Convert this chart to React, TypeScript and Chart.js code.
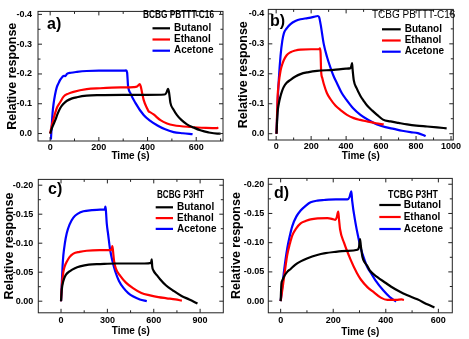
import { useEffect, useRef } from "react";
import { Chart, registerables } from "chart.js";
Chart.register(...registerables);

const FONT = "'Liberation Sans', Arial, sans-serif";

type Pt = [number, number];

const seriesNames = ["Butanol", "Ethanol", "Acetone"];
const seriesColors = ["#000000", "#ff0000", "#0000ff"];

// ---- Panel a) BCBG PBTTT-C16 ----
const aButanol: Pt[] = [[0, 0.0], [8, -0.02], [21, -0.045], [30, -0.065], [41, -0.085], [55, -0.1], [69, -0.11], [90, -0.118], [110, -0.122], [150, -0.127], [200, -0.129], [300, -0.13], [400, -0.13], [470, -0.131], [478, -0.138], [484, -0.15], [488, -0.14], [494, -0.103], [507, -0.08], [521, -0.062], [540, -0.045], [562, -0.031], [590, -0.02], [617, -0.011], [650, -0.004], [686, 0.0], [700, 0.0]];
const aEthanol: Pt[] = [[0, 0.0], [5, -0.02], [14, -0.05], [27, -0.085], [41, -0.105], [55, -0.124], [75, -0.134], [96, -0.14], [150, -0.149], [205, -0.152], [290, -0.155], [343, -0.156], [357, -0.158], [368, -0.166], [373, -0.155], [378, -0.135], [384, -0.113], [398, -0.085], [405, -0.074], [410, -0.072], [425, -0.064], [453, -0.045], [480, -0.034], [508, -0.028], [576, -0.022], [640, -0.019], [686, -0.018], [690, -0.021]];
const aAcetone: Pt[] = [[3, 0.02], [6, -0.02], [10, -0.07], [14, -0.1], [20, -0.13], [27, -0.155], [35, -0.17], [41, -0.18], [50, -0.19], [57, -0.194], [62, -0.193], [69, -0.2], [85, -0.204], [110, -0.207], [150, -0.21], [200, -0.211], [250, -0.211], [300, -0.211], [312, -0.212], [316, -0.205], [320, -0.16], [330, -0.135], [350, -0.103], [384, -0.062], [410, -0.043], [439, -0.028], [470, -0.015], [507, -0.005], [545, -0.001], [585, 0.002]];

// ---- Panel b) TCBG PBTTT-C16 ----
const bButanol: Pt[] = [[2, 0.0], [8, -0.07], [15, -0.1], [25, -0.126], [35, -0.145], [44, -0.157], [60, -0.17], [82, -0.18], [110, -0.191], [139, -0.199], [180, -0.205], [234, -0.21], [329, -0.213], [400, -0.217], [425, -0.219], [430, -0.226], [434, -0.236], [437, -0.215], [444, -0.178], [460, -0.152], [482, -0.126], [500, -0.11], [520, -0.094], [550, -0.077], [577, -0.063], [611, -0.047], [654, -0.041], [700, -0.036], [749, -0.031], [802, -0.027], [863, -0.024], [920, -0.021], [975, -0.018]];
const bEthanol: Pt[] = [[2, 0.0], [8, -0.12], [15, -0.17], [25, -0.21], [35, -0.232], [44, -0.246], [60, -0.262], [82, -0.272], [110, -0.278], [139, -0.281], [200, -0.282], [245, -0.282], [250, -0.285], [254, -0.27], [257, -0.21], [264, -0.185], [272, -0.167], [290, -0.136], [311, -0.115], [340, -0.093], [368, -0.079], [405, -0.063], [444, -0.052], [480, -0.046], [520, -0.041], [570, -0.035], [615, -0.031]];
const bAcetone: Pt[] = [[2, 0.0], [8, -0.1], [15, -0.18], [25, -0.26], [35, -0.31], [44, -0.335], [60, -0.352], [82, -0.366], [110, -0.376], [139, -0.382], [180, -0.386], [215, -0.39], [238, -0.393], [245, -0.39], [254, -0.366], [272, -0.3], [290, -0.258], [311, -0.22], [330, -0.19], [349, -0.167], [375, -0.136], [406, -0.11], [440, -0.085], [482, -0.063], [530, -0.045], [577, -0.031], [625, -0.022], [673, -0.016], [720, -0.01], [768, -0.005], [810, -0.002], [840, 0.004], [855, 0.008]];

// ---- Panel c) BCBG P3HT ----
const cButanol: Pt[] = [[0, 0.0], [5, -0.02], [15, -0.035], [30, -0.045], [58, -0.052], [90, -0.057], [123, -0.06], [180, -0.063], [253, -0.064], [350, -0.065], [450, -0.065], [540, -0.065], [582, -0.066], [587, -0.072], [590, -0.06], [598, -0.053], [620, -0.045], [641, -0.038], [680, -0.027], [727, -0.018], [780, -0.009], [830, -0.003], [883, 0.004]];
const cEthanol: Pt[] = [[0, 0.0], [5, -0.025], [15, -0.05], [25, -0.061], [37, -0.068], [55, -0.076], [80, -0.082], [120, -0.085], [166, -0.087], [250, -0.088], [320, -0.088], [328, -0.09], [332, -0.095], [336, -0.088], [343, -0.07], [355, -0.056], [382, -0.044], [420, -0.032], [468, -0.022], [520, -0.014], [576, -0.01], [630, -0.007], [684, -0.005], [740, -0.003], [782, -0.001]];
const cAcetone: Pt[] = [[0, 0.0], [5, -0.03], [10, -0.06], [15, -0.079], [25, -0.1], [37, -0.117], [55, -0.132], [80, -0.144], [110, -0.151], [145, -0.155], [200, -0.157], [253, -0.158], [283, -0.158], [287, -0.163], [290, -0.158], [296, -0.134], [305, -0.115], [317, -0.09], [332, -0.07], [350, -0.052], [375, -0.035], [404, -0.023], [435, -0.014], [468, -0.008], [510, -0.003], [555, 0.0]];

// ---- Panel d) TCBG P3HT ----
const dButanol: Pt[] = [[0, 0.0], [3, -0.03], [6, -0.035], [13, -0.042], [25, -0.05], [38, -0.055], [55, -0.062], [76, -0.068], [100, -0.073], [139, -0.079], [170, -0.082], [203, -0.084], [250, -0.086], [292, -0.088], [298, -0.092], [302, -0.106], [305, -0.095], [311, -0.076], [320, -0.066], [330, -0.06], [340, -0.052], [368, -0.041], [400, -0.031], [419, -0.025], [454, -0.016], [482, -0.01], [520, -0.003], [560, 0.006], [585, 0.011]];
const dEthanol: Pt[] = [[0, 0.0], [5, -0.015], [13, -0.041], [25, -0.079], [35, -0.098], [44, -0.112], [60, -0.125], [76, -0.133], [95, -0.137], [114, -0.14], [178, -0.142], [200, -0.14], [208, -0.139], [213, -0.143], [219, -0.153], [222, -0.14], [226, -0.123], [241, -0.1], [266, -0.071], [290, -0.048], [305, -0.037], [330, -0.024], [355, -0.015], [381, -0.006], [406, -0.002], [440, -0.002], [460, -0.003], [469, -0.002]];
const dAcetone: Pt[] = [[0, 0.0], [5, -0.02], [13, -0.052], [25, -0.09], [35, -0.112], [44, -0.128], [60, -0.145], [76, -0.155], [95, -0.163], [114, -0.169], [140, -0.172], [165, -0.173], [210, -0.174], [254, -0.174], [262, -0.178], [269, -0.188], [272, -0.172], [285, -0.133], [295, -0.11], [305, -0.09], [318, -0.072], [330, -0.058], [346, -0.046], [360, -0.036], [391, -0.018], [415, -0.007], [439, 0.001]];

// ---- tick labels ----
const xTicksA = [0, 200, 400, 600];
const xTicksB = [0, 200, 400, 600, 800, 1000];
const xTicksC = [0, 300, 600, 900];
const xTicksD = [0, 200, 400, 600];
const yTicksAB = [-0.4, -0.3, -0.2, -0.1, 0.0];
const yTicksCD = [-0.2, -0.15, -0.1, -0.05, 0.0];

const panelLabels = ["a)", "b)", "c)", "d)"];
const panelTitles = ["BCBG PBTTT-C16", "TCBG PBTTT-C16", "BCBG P3HT", "TCBG P3HT"];
const yTitle = "Relative response";
const xTitle = "Time (s)";

interface PanelCfg {
  left: number; top: number; width: number; height: number;
  yAxisW: number; xAxisH: number; padTop: number; padRight: number;
  xMin: number; xMax: number; yMin: number; yMax: number;
  xTicks: number[]; yTicks: number[]; yDec: number;
  yTitlePad: number; xTitlePad: number; yTickPad: number; xTickPad: number;
  label: string; labelX: number; labelY: number;
  title: string; titleBold: boolean; titleX: number; titleY: number; titleW: number;
  legX: number; legY: number; legLen: number; legGap: number; legRow: number;
  series: Pt[][];
}

const panels: PanelCfg[] = [
  {
    left: 0, top: 0, width: 234, height: 169, yAxisW: 38, xAxisH: 28, padTop: 3, padRight: 11,
    xMin: -50, xMax: 710, yMin: -0.41, yMax: 0.025, xTicks: xTicksA, yTicks: yTicksAB, yDec: 1,
    yTitlePad: 4.8, xTitlePad: 6.3, yTickPad: 6, xTickPad: 1.5,
    label: panelLabels[0], labelX: 47, labelY: 25,
    title: panelTitles[0], titleBold: true, titleX: 143, titleY: 15, titleW: 71,
    legX: 152.5, legY: 28.3, legLen: 17.5, legGap: 4, legRow: 11.2,
    series: [aButanol, aEthanol, aAcetone],
  },
  {
    left: 234, top: 0, width: 235, height: 169, yAxisW: 34.3, xAxisH: 29, padTop: 1, padRight: 15.7,
    xMin: -45, xMax: 1013, yMin: -0.415, yMax: 0.021, xTicks: xTicksB, yTicks: yTicksAB, yDec: 1,
    yTitlePad: 1.8, xTitlePad: 6.3, yTickPad: 4, xTickPad: 1.5,
    label: panelLabels[1], labelX: 36, labelY: 22,
    title: panelTitles[1], titleBold: false, titleX: 138, titleY: 15, titleW: 84,
    legX: 148, legY: 29.3, legLen: 18.7, legGap: 4, legRow: 11.2,
    series: [bButanol, bEthanol, bAcetone],
  },
  {
    left: 0, top: 169, width: 234, height: 170, yAxisW: 38.3, xAxisH: 26.2, padTop: 3.2, padRight: 10.7,
    xMin: -147, xMax: 1050, yMin: -0.21, yMax: 0.02, xTicks: xTicksC, yTicks: yTicksCD, yDec: 2,
    yTitlePad: 1.8, xTitlePad: 2, yTickPad: 5, xTickPad: 2.5,
    label: panelLabels[2], labelX: 48, labelY: 21,
    title: panelTitles[2], titleBold: true, titleX: 157, titleY: 26, titleW: 47,
    legX: 155.7, legY: 38.3, legLen: 17.3, legGap: 4, legRow: 10.8,
    series: [cButanol, cEthanol, cAcetone],
  },
  {
    left: 228, top: 169, width: 241, height: 170, yAxisW: 40.3, xAxisH: 26.2, padTop: 3.2, padRight: 16.7,
    xMin: -47, xMax: 653, yMin: -0.21, yMax: 0.02, xTicks: xTicksD, yTicks: yTicksCD, yDec: 2,
    yTitlePad: 0.8, xTitlePad: 0.8, yTickPad: 4, xTickPad: 2.5,
    label: panelLabels[3], labelX: 46, labelY: 25,
    title: panelTitles[3], titleBold: true, titleX: 160, titleY: 26, titleW: 50,
    legX: 151.3, legY: 36, legLen: 21.4, legGap: 3, legRow: 12,
    series: [dButanol, dEthanol, dAcetone],
  },
];

function minorOf(ticks: number[], min: number, max: number): number[] {
  const step = ticks[1] - ticks[0];
  const out: number[] = [];
  for (let v = ticks[0] - step / 2; v > min; v -= step) out.push(v);
  for (let i = 0; i < ticks.length; i++) {
    const v = ticks[i] + step / 2;
    if (v < max) out.push(v);
  }
  return out;
}

function makeDecor(cfg: PanelCfg) {
  return {
    id: "decor",
    afterDatasetsDraw(chart: any) {
      const ctx = chart.ctx as CanvasRenderingContext2D;
      const a = chart.chartArea;
      const xs = chart.scales.x;
      const ys = chart.scales.y;
      ctx.save();
      ctx.strokeStyle = "#222";
      ctx.lineWidth = 1;
      ctx.strokeRect(a.left, a.top, a.right - a.left, a.bottom - a.top);
      const maj = 4, mnr = 2.5;
      ctx.beginPath();
      const xm = minorOf(cfg.xTicks, cfg.xMin, cfg.xMax);
      cfg.xTicks.forEach((v) => {
        const p = xs.getPixelForValue(v);
        ctx.moveTo(p, a.bottom); ctx.lineTo(p, a.bottom - maj);
        ctx.moveTo(p, a.top); ctx.lineTo(p, a.top + maj);
      });
      xm.forEach((v) => {
        const p = xs.getPixelForValue(v);
        ctx.moveTo(p, a.bottom); ctx.lineTo(p, a.bottom - mnr);
        ctx.moveTo(p, a.top); ctx.lineTo(p, a.top + mnr);
      });
      const ym = minorOf(cfg.yTicks, cfg.yMin, cfg.yMax);
      cfg.yTicks.forEach((v) => {
        const p = ys.getPixelForValue(v);
        ctx.moveTo(a.left, p); ctx.lineTo(a.left + maj, p);
        ctx.moveTo(a.right, p); ctx.lineTo(a.right - maj, p);
      });
      ym.forEach((v) => {
        const p = ys.getPixelForValue(v);
        ctx.moveTo(a.left, p); ctx.lineTo(a.left + mnr, p);
        ctx.moveTo(a.right, p); ctx.lineTo(a.right - mnr, p);
      });
      ctx.stroke();

      // panel label
      ctx.fillStyle = "#000";
      ctx.textBaseline = "middle";
      ctx.textAlign = "left";
      ctx.font = `bold 16px ${FONT}`;
      ctx.fillText(cfg.label, cfg.labelX, cfg.labelY);

      // legend title
      ctx.font = `${cfg.titleBold ? "bold " : ""}10px ${FONT}`;
      ctx.fillText(cfg.title, cfg.titleX, cfg.titleY, cfg.titleW);

      // legend rows
      ctx.font = `bold 10px ${FONT}`;
      chart.data.datasets.forEach((ds: any, i: number) => {
        const y = cfg.legY + i * cfg.legRow;
        ctx.strokeStyle = ds.borderColor;
        ctx.lineWidth = 2.2;
        ctx.beginPath();
        ctx.moveTo(cfg.legX, y);
        ctx.lineTo(cfg.legX + cfg.legLen, y);
        ctx.stroke();
        ctx.fillText(ds.label, cfg.legX + cfg.legLen + cfg.legGap, y);
      });
      ctx.restore();
    },
  };
}

function Panel({ cfg }: { cfg: PanelCfg }) {
  const ref = useRef<HTMLCanvasElement | null>(null);
  useEffect(() => {
    if (!ref.current) return;
    const tickFont = { family: FONT, size: 9, weight: "bold" as const };
    const chart = new Chart(ref.current, {
      type: "line",
      data: {
        datasets: cfg.series.map((s, i) => ({
          label: seriesNames[i],
          data: s.map(([x, y]) => ({ x, y })),
          borderColor: seriesColors[i],
          backgroundColor: seriesColors[i],
          borderWidth: 2.2,
          pointRadius: 0,
          fill: false,
          cubicInterpolationMode: "monotone" as const,
        })),
      },
      options: {
        animation: false,
        responsive: false,
        events: [],
        layout: { padding: { top: cfg.padTop, right: cfg.padRight, left: 0, bottom: 0 } },
        plugins: { legend: { display: false }, tooltip: { enabled: false } },
        scales: {
          x: {
            type: "linear",
            min: cfg.xMin,
            max: cfg.xMax,
            grid: { display: false, drawTicks: false, tickLength: 0 },
            border: { display: false },
            afterBuildTicks: (s: any) => { s.ticks = cfg.xTicks.map((v) => ({ value: v })); },
            afterFit: (s: any) => { s.height = cfg.xAxisH; },
            ticks: { font: tickFont, color: "#000", padding: cfg.xTickPad, maxRotation: 0, autoSkip: false, callback: (v: any) => String(v) },
            title: { display: true, text: xTitle, color: "#000", font: { family: FONT, size: 10, weight: "bold" }, padding: { top: 0, bottom: cfg.xTitlePad } },
          },
          y: {
            type: "linear",
            reverse: true,
            min: cfg.yMin,
            max: cfg.yMax,
            grid: { display: false, drawTicks: false, tickLength: 0 },
            border: { display: false },
            afterBuildTicks: (s: any) => { s.ticks = cfg.yTicks.map((v) => ({ value: v })); },
            afterFit: (s: any) => { s.width = cfg.yAxisW; },
            ticks: { font: tickFont, color: "#000", padding: cfg.yTickPad, autoSkip: false, callback: (v: any) => Number(v).toFixed(cfg.yDec) },
            title: { display: true, text: yTitle, color: "#000", font: { family: FONT, size: 12.5, weight: "bold" }, padding: { top: cfg.yTitlePad, bottom: 0 } },
          },
        },
      },
      plugins: [makeDecor(cfg)],
    } as any);
    return () => chart.destroy();
  }, [cfg]);
  return (
    <canvas
      ref={ref}
      width={cfg.width}
      height={cfg.height}
      style={{ position: "absolute", left: cfg.left, top: cfg.top, width: cfg.width, height: cfg.height }}
    />
  );
}

export default function App() {
  return (
    <div style={{ position: "absolute", left: 0, top: 0, width: 469, height: 339, background: "#fff", overflow: "hidden" }}>
      {panels.map((p, i) => (
        <Panel key={i} cfg={p} />
      ))}
    </div>
  );
}
